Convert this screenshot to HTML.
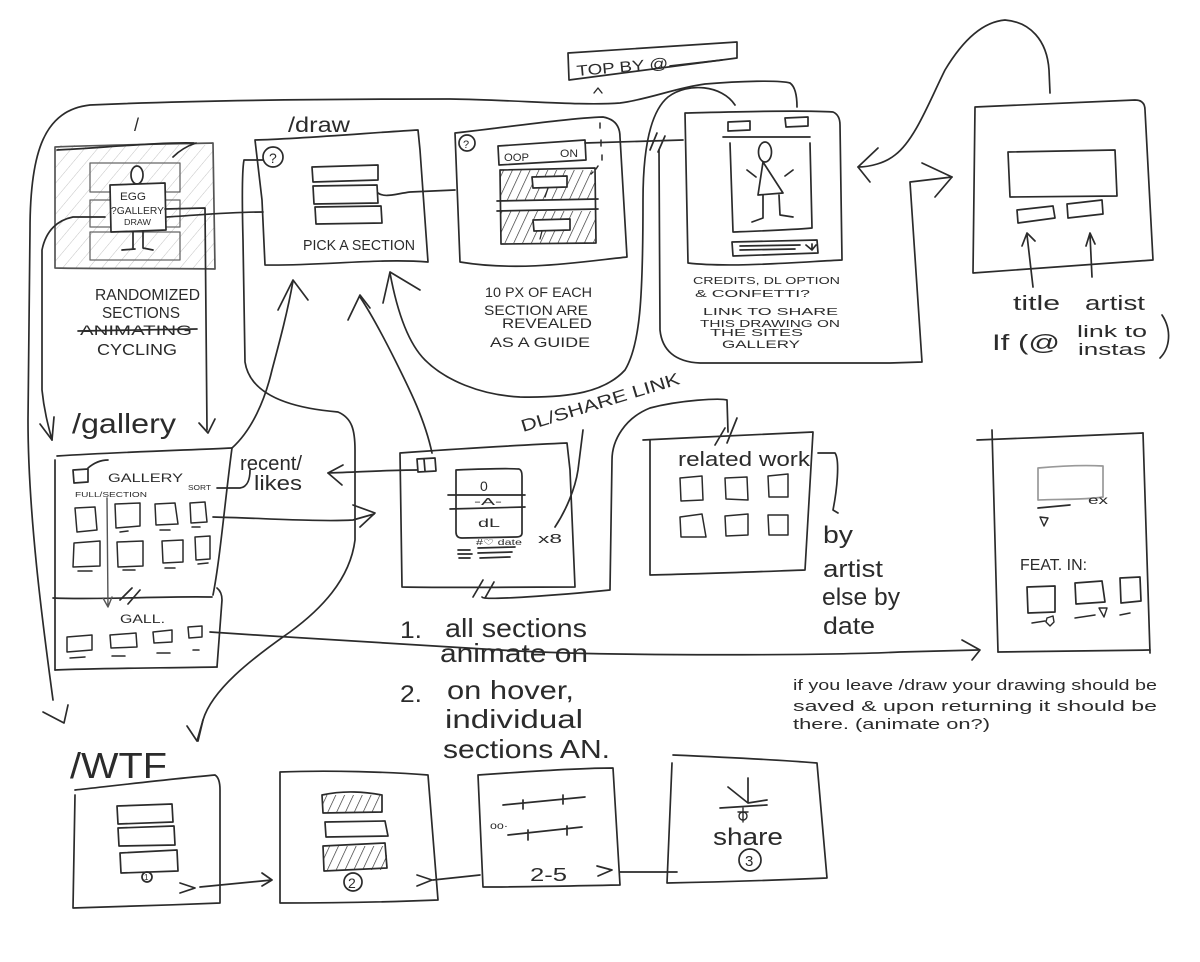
<!DOCTYPE html>
<html>
<head>
<meta charset="utf-8">
<style>
html,body{margin:0;padding:0;background:#fff;}
svg{display:block;}
text{font-family:"Liberation Sans",sans-serif;fill:#2b2b2b;}
</style>
</head>
<body>
<svg width="1200" height="962" viewBox="0 0 1200 962" xmlns="http://www.w3.org/2000/svg">
<defs>
<pattern id="gh" width="10" height="10" patternUnits="userSpaceOnUse" patternTransform="rotate(40)">
<line x1="0" y1="0" x2="0" y2="10" stroke="#c4c4c4" stroke-width="1"/>
</pattern>
<pattern id="bh" width="8" height="8" patternUnits="userSpaceOnUse" patternTransform="rotate(25)">
<line x1="0" y1="0" x2="0" y2="8" stroke="#2b2b2b" stroke-width="1.3"/>
</pattern>
</defs>
<rect width="1200" height="962" fill="#fff"/>

<g fill="none" stroke="#2b2b2b" stroke-width="1.7" stroke-linecap="round" stroke-linejoin="round">

<!-- ============ BOX 1 ( / ) ============ -->
<rect x="55" y="145" width="159" height="124" fill="url(#gh)" stroke="none"/>
<path d="M55,147 C100,145 170,144 213,143 L215,269 C160,268 100,269 55,268 Z" stroke="#555"/>
<path d="M57,150 C100,148 160,142 194,143 M173,157 C180,150 187,146 196,143"/>
<g stroke="#666" stroke-width="1.3">
<rect x="90" y="163" width="90" height="29"/>
<rect x="90" y="200" width="90" height="27"/>
<rect x="90" y="232" width="90" height="28"/>
</g>
<ellipse cx="137" cy="175" rx="6" ry="9" fill="#fff"/>
<path d="M110,185 L165,183 L166,230 L111,232 Z" fill="#fff"/>
<path d="M133,232 L133,248 M122,250 L135,249 M143,232 L143,248 L153,250"/>

<!-- ============ /draw BOX ============ -->
<path d="M255,140 C300,139 380,132 418,130 L420,150 L428,262 C380,258 320,266 265,265 L262,200 Z"/>
<circle cx="273" cy="157" r="10"/>
<path d="M312,167 L378,165 L378,180 L313,182 Z"/>
<path d="M313,186 L377,185 L378,203 L314,204 Z"/>
<path d="M315,207 L381,206 L382,223 L316,224 Z"/>

<!-- ============ OOP BOX ============ -->
<path d="M455,133 C500,128 570,118 603,117 Q620,120 620,137 L627,257 C580,262 520,272 460,262 Z"/>
<circle cx="467" cy="143" r="8"/>
<path d="M498,146 L585,140 L586,160 L499,165 Z"/>
<rect x="500" y="170" width="95" height="30" fill="url(#bh)" stroke="none"/>
<rect x="500" y="211" width="95" height="32" fill="url(#bh)" stroke="none"/>
<path d="M500,170 L595,168 L596,243 L501,244 Z"/>
<path d="M497,201 L598,199 M497,211 L598,209"/>
<path d="M532,177 L567,176 L567,187 L533,188 Z" fill="#fff"/>
<path d="M533,220 L570,219 L570,230 L534,231 Z" fill="#fff"/>
<path d="M548,188 L545,197 M542,231 L540,239" stroke-width="1.3"/>
<path d="M600,123 L600,128 M601,140 L601,146 M602,155 L602,160 M598,166 L596,169 M593,172 L591,174" stroke-width="1.5"/>

<!-- ============ TOP BY ============ -->
<path d="M568,53 L737,42 L737,58 L569,80 Z"/>
<path d="M670,66 L722,60"/>
<path d="M594,93 L598,88 L602,93" stroke-width="1.4"/>

<!-- ============ CREDITS BOX ============ -->
<path d="M685,113 C730,112 800,110 833,112 Q840,115 840,125 L842,260 C800,262 730,268 688,263 Z"/>
<path d="M728,122 L750,121 L750,130 L728,131 Z"/>
<path d="M785,118 L808,117 L808,126 L786,127 Z"/>
<path d="M723,137 L810,137"/>
<path d="M730,143 L733,232 C760,231 790,230 812,228 L810,143"/>
<ellipse cx="765" cy="152" rx="6.5" ry="10"/>
<path d="M763,162 L783,193 L758,195 Z"/>
<path d="M763,195 L763,218 L752,222 M779,195 L780,215 L793,217"/>
<path d="M747,170 L756,177 M785,176 L793,170"/>
<path d="M732,242 L817,240 L818,253 L733,256 Z"/>
<path d="M740,246 L800,245 M740,250 L795,249 M806,245 L812,250 L816,245 M812,250 L812,244"/>

<!-- ============ RIGHT BOX (title artist) ============ -->
<path d="M975,107 L1135,100 Q1145,100 1145,110 L1153,260 L973,273 Z"/>
<path d="M1008,152 L1115,150 L1117,196 L1010,197 Z"/>
<path d="M1017,210 L1053,206 L1055,218 L1018,223 Z"/>
<path d="M1067,204 L1102,200 L1103,214 L1068,218 Z"/>
<path d="M1033,287 L1027,235 M1022,246 L1027,233 L1035,241"/>
<path d="M1092,277 L1090,235 M1086,246 L1090,233 L1095,244"/>
<path d="M1162,315 C1172,330 1170,348 1160,358"/>

<!-- ============ GALLERY BOX ============ -->
<path d="M57,456 C120,452 190,450 232,448"/>
<path d="M55,460 L55,670"/>
<path d="M232,448 C225,500 220,560 213,595"/>
<path d="M53,598 C100,600 160,596 212,597"/>
<path d="M217,588 Q222,592 222,600 L217,667"/>
<path d="M55,670 C100,668 170,668 217,667"/>
<path d="M73,470 L88,469 L88,482 L74,483 Z"/>
<path d="M88,468 C95,462 102,460 108,460"/>
<g stroke-width="1.5">
<path d="M75,508 L95,507 L97,530 L77,532 Z"/>
<path d="M115,504 L140,503 L140,526 L116,528 Z"/>
<path d="M155,504 L175,503 L178,524 L156,525 Z"/>
<path d="M190,503 L205,502 L207,522 L191,523 Z"/>
<path d="M74,543 L100,541 L100,566 L73,567 Z"/>
<path d="M117,542 L143,541 L143,566 L118,567 Z"/>
<path d="M162,541 L183,540 L183,562 L163,563 Z"/>
<path d="M195,537 L210,536 L210,559 L196,560 Z"/>
<path d="M120,532 L128,531 M160,530 L170,530 M192,527 L200,527 M78,571 L92,571 M123,570 L135,570 M165,568 L175,568 M198,564 L208,563"/>
<path d="M67,637 L92,635 L92,650 L67,652 Z"/>
<path d="M110,635 L136,633 L137,647 L111,648 Z"/>
<path d="M153,632 L172,630 L172,642 L154,643 Z"/>
<path d="M188,627 L202,626 L202,637 L189,638 Z"/>
<path d="M70,658 L85,657 M112,656 L125,656 M157,653 L170,653 M193,650 L199,650"/>
</g>
<path d="M107,498 L108,607 M103,598 L108,607 L112,597" stroke="#555" stroke-width="1.4"/>
<path d="M120,600 L132,588 M128,604 L140,590"/>
<path d="M217,488 L240,488 C248,487 250,478 250,470"/>

<!-- ============ DL BOX ============ -->
<path d="M400,453 C440,450 520,445 567,443 L570,470 L575,587 C510,587 450,588 402,587 Z"/>
<path d="M417,459 L435,458 L436,471 L418,472 Z M424,459 L425,471"/>
<path d="M456,470 C480,469 505,468 519,469 Q522,470 522,476 L522,533 Q522,537 516,537 L462,538 Q456,538 456,532 Z"/>
<path d="M448,495 L525,495 M450,509 L525,507"/>
<path d="M458,550 L470,550 M458,554 L472,554 M459,558 L470,558 M478,548 L515,547 M478,553 L512,552 M480,558 L510,557"/>
<path d="M473,597 L483,580 M485,598 L494,582"/>

<!-- ============ RELATED WORK BOX ============ -->
<path d="M643,440 C700,437 760,435 813,432 L805,570 C750,572 700,574 650,575 L650,440"/>
<g stroke-width="1.5">
<path d="M680,478 L702,476 L703,500 L681,501 Z"/>
<path d="M725,478 L747,477 L748,500 L726,499 Z"/>
<path d="M768,476 L788,474 L788,497 L769,497 Z"/>
<path d="M680,517 L702,514 L706,537 L681,537 Z"/>
<path d="M725,516 L748,514 L748,535 L726,536 Z"/>
<path d="M768,515 L788,515 L788,535 L769,535 Z"/>
</g>
<path d="M715,445 L725,428 M727,443 L737,418"/>
<path d="M818,453 L835,453 C840,460 837,490 833,510 L838,513"/>

<!-- ============ ARTIST PAGE BOX ============ -->
<path d="M977,440 C1030,438 1100,435 1143,433"/>
<path d="M992,430 L998,652"/>
<path d="M1143,433 L1150,653"/>
<path d="M998,652 C1050,651 1100,651 1150,650"/>
<path d="M1038,468 C1060,466 1085,465 1103,466 L1103,497 C1085,500 1060,499 1038,500 Z" stroke="#999"/>
<path d="M1038,508 L1070,505"/>
<path d="M1040,517 L1048,518 L1044,526 Z" stroke-width="1.4"/>
<path d="M1027,587 L1055,586 L1055,612 L1028,613 Z"/>
<path d="M1075,583 L1102,581 L1105,602 L1076,604 Z"/>
<path d="M1120,578 L1140,577 L1141,601 L1121,603 Z"/>
<path d="M1032,623 L1045,621 M1075,618 L1095,615 M1120,615 L1130,613" stroke-width="1.5"/>
<path d="M1047,618 L1053,616 L1054,622 L1050,626 L1046,622 Z M1099,608 L1107,608 L1104,617 Z" stroke-width="1.4"/>

<!-- ============ WTF BOXES ============ -->
<path d="M75,790 C120,785 180,778 215,775 Q220,778 220,790 L220,903 C170,905 110,907 73,908 L75,795"/>
<path d="M117,806 L172,804 L173,822 L118,824 Z"/>
<path d="M118,828 L174,826 L175,845 L119,846 Z"/>
<path d="M120,853 L177,850 L178,871 L121,873 Z"/>
<circle cx="147" cy="877" r="5"/>

<rect x="322" y="795" width="60" height="18" fill="url(#bh)" stroke="none"/>
<rect x="323" y="846" width="64" height="24" fill="url(#bh)" stroke="none"/>
<path d="M280,772 C330,770 390,772 428,775 L438,900 C390,902 330,903 280,903 Z"/>
<path d="M322,795 C345,790 365,792 382,795 L382,812 L323,813 Z"/>
<path d="M325,822 L385,821 L388,836 L326,837 Z"/>
<path d="M323,846 L385,843 L387,868 L324,871 Z"/>
<ellipse cx="353" cy="882" rx="9" ry="9" fill="#fff"/>

<path d="M478,775 C520,772 580,768 613,768 L620,885 C570,886 520,887 483,887 Z"/>
<path d="M503,805 L585,797 M523,800 L523,809 M563,795 L563,804"/>
<path d="M508,835 L582,827 M528,830 L528,840 M567,826 L567,835"/>

<path d="M673,755 C720,757 780,760 817,763 L827,878 C780,880 720,882 667,883 L672,763"/>
<path d="M748,778 L748,803 M728,787 L748,803 L767,800 M720,808 L767,805"/>
<path d="M738,812 L748,812 M743,808 L743,822" stroke-width="1.4"/>
<circle cx="743" cy="816" r="4" stroke-width="1.4"/>
<circle cx="750" cy="860" r="11"/>

<!-- ============ CONNECTORS ============ -->
<!-- top big line / WTF arrow -->
<path d="M53,700 C45,640 28,520 28,420 L30,230 C30,150 45,110 90,105 C200,100 350,99 450,99 C520,100 580,106 620,103 C650,99 675,88 705,84 C740,81 780,80 790,83 Q797,88 797,107"/>
<path d="M43,712 L64,723 L68,705"/>
<!-- egg gallery -> /gallery -->
<path d="M105,217 L73,217 C58,220 46,230 42,250 L42,390 C44,410 48,425 52,440"/>
<path d="M40,424 L52,440 L54,417"/>
<!-- egg -> right gallery arrow -->
<path d="M165,209 L205,208 L207,430"/>
<path d="M199,423 L208,433 L215,419"/>
<!-- egg -> /draw -->
<path d="M167,217 C200,215 230,212 263,212"/>
<!-- /draw ? loop to WTF -->
<path d="M263,160 L244,160 C242,170 242,200 243,240 L245,362 C250,395 290,408 338,412 C352,418 355,430 355,450 L355,540 C350,580 320,610 290,632 C250,660 212,690 203,720 L198,741"/>
<path d="M187,726 L197,741 L203,720"/>
<!-- gallery -> /draw -->
<path d="M232,448 C252,430 265,400 272,370 C280,340 288,310 293,281"/>
<path d="M278,310 L293,280 L308,300"/>
<!-- DL box -> /draw -->
<path d="M432,453 C425,420 410,390 395,360 C385,340 372,315 360,297"/>
<path d="M348,320 L360,295 L370,308"/>
<!-- curve D from /draw up to credits top -->
<path d="M390,273 C395,300 405,340 425,360 C445,380 480,395 520,397 C570,398 605,392 625,370 C640,345 643,300 643,200 C643,150 650,112 668,97 C688,82 722,85 735,105"/>
<path d="M383,303 L390,272 L420,290"/>
<!-- OOP -> credits -->
<path d="M585,143 L683,140"/>
<path d="M650,150 L657,133 M658,152 L665,136"/>
<!-- credits loop -> right box -->
<path d="M659,150 L660,330 C662,350 675,362 700,363 L890,363 L922,362 L910,182 L952,177"/>
<path d="M922,163 L952,177 L935,197"/>
<!-- right box -> credits -->
<path d="M1050,93 L1049,70 C1047,40 1030,22 1005,20 C980,22 960,45 945,70 C930,100 915,140 895,155 C885,163 870,167 858,167"/>
<path d="M878,148 L858,167 L870,182"/>
<!-- /draw section -> OOP -->
<path d="M378,193 C385,198 395,194 410,192 L455,190"/>
<!-- recent/likes arrow -->
<path d="M417,470 C390,470 360,472 328,473"/>
<path d="M343,465 L328,473 L342,485"/>
<!-- gallery -> DL -->
<path d="M213,517 C260,518 320,522 353,520 L374,514"/>
<path d="M353,505 L375,513 L360,527"/>
<!-- long line GALL -> artist page -->
<path d="M210,632 C300,638 380,643 500,650 C613,657 840,655 900,652 L978,650"/>
<path d="M962,640 L980,650 L972,660"/>
<!-- share line -->
<path d="M555,527 C565,512 575,490 578,470 L583,430"/>
<!-- DL -> related -->
<path d="M482,597 C482,601 560,595 610,590 L612,460 C612,440 625,418 650,408 C680,400 720,398 727,400 L728,432"/>
<!-- WTF arrows -->
<path d="M180,883 L195,888 L180,893"/>
<path d="M200,887 L272,880 M262,873 L272,880 L262,886"/>
<path d="M417,875 L432,880 L417,886"/>
<path d="M433,880 L480,875"/>
<path d="M597,866 L612,870 L598,876"/>
<path d="M620,872 L677,872"/>
<!-- strike through ANIMATING -->
<path d="M78,331 L197,329"/>
</g>

<!-- ============ TEXT ============ -->
<g>
<text x="134" y="131" font-size="18">/</text>
<text x="120" y="200" font-size="11" textLength="26" lengthAdjust="spacingAndGlyphs">EGG</text>
<text x="111" y="214" font-size="10" textLength="53" lengthAdjust="spacingAndGlyphs">?GALLERY</text>
<text x="124" y="225" font-size="8" textLength="27" lengthAdjust="spacingAndGlyphs">DRAW</text>
<text x="95" y="300" font-size="16" textLength="105" lengthAdjust="spacingAndGlyphs">RANDOMIZED</text>
<text x="102" y="318" font-size="16" textLength="78" lengthAdjust="spacingAndGlyphs">SECTIONS</text>
<text x="80" y="335" font-size="14" textLength="112" lengthAdjust="spacingAndGlyphs">ANIMATING</text>
<text x="97" y="355" font-size="16" textLength="80" lengthAdjust="spacingAndGlyphs">CYCLING</text>

<text x="288" y="132" font-size="21" textLength="62" lengthAdjust="spacingAndGlyphs">/draw</text>
<text x="269" y="163" font-size="14">?</text>
<text x="303" y="250" font-size="15" textLength="112" lengthAdjust="spacingAndGlyphs">PICK A SECTION</text>

<text x="463" y="148" font-size="11">?</text>
<text x="504" y="161" font-size="11" textLength="25" lengthAdjust="spacingAndGlyphs">OOP</text>
<text x="560" y="157" font-size="11" textLength="18" lengthAdjust="spacingAndGlyphs">ON</text>
<text x="485" y="297" font-size="14" textLength="107" lengthAdjust="spacingAndGlyphs">10 PX OF EACH</text>
<text x="484" y="315" font-size="14" textLength="104" lengthAdjust="spacingAndGlyphs">SECTION ARE</text>
<text x="502" y="328" font-size="14" textLength="90" lengthAdjust="spacingAndGlyphs">REVEALED</text>
<text x="490" y="347" font-size="14" textLength="100" lengthAdjust="spacingAndGlyphs">AS A GUIDE</text>

<text x="577" y="76" font-size="15" textLength="92" lengthAdjust="spacingAndGlyphs" transform="rotate(-5 577 76)">TOP BY @</text>

<text x="693" y="284" font-size="10" textLength="147" lengthAdjust="spacingAndGlyphs">CREDITS, DL OPTION</text>
<text x="695" y="297" font-size="10" textLength="115" lengthAdjust="spacingAndGlyphs">&amp; CONFETTI?</text>
<text x="703" y="315" font-size="10" textLength="135" lengthAdjust="spacingAndGlyphs">LINK TO SHARE</text>
<text x="700" y="327" font-size="10" textLength="140" lengthAdjust="spacingAndGlyphs">THIS DRAWING ON</text>
<text x="710" y="336" font-size="10" textLength="93" lengthAdjust="spacingAndGlyphs">THE SITES</text>
<text x="722" y="348" font-size="11" textLength="78" lengthAdjust="spacingAndGlyphs">GALLERY</text>

<text x="1013" y="310" font-size="20" textLength="47" lengthAdjust="spacingAndGlyphs">title</text>
<text x="1085" y="310" font-size="20" textLength="60" lengthAdjust="spacingAndGlyphs">artist</text>
<text x="992" y="350" font-size="22" textLength="68" lengthAdjust="spacingAndGlyphs">If (@</text>
<text x="1077" y="337" font-size="17" textLength="70" lengthAdjust="spacingAndGlyphs">link to</text>
<text x="1078" y="355" font-size="17" textLength="68" lengthAdjust="spacingAndGlyphs">instas</text>

<text x="72" y="433" font-size="28" textLength="104" lengthAdjust="spacingAndGlyphs">/gallery</text>
<text x="108" y="482" font-size="12" textLength="75" lengthAdjust="spacingAndGlyphs">GALLERY</text>
<text x="75" y="497" font-size="7" textLength="72" lengthAdjust="spacingAndGlyphs">FULL/SECTION</text>
<text x="188" y="490" font-size="7" textLength="23" lengthAdjust="spacingAndGlyphs">SORT</text>
<text x="240" y="470" font-size="20" textLength="62" lengthAdjust="spacingAndGlyphs">recent/</text>
<text x="254" y="490" font-size="20" textLength="48" lengthAdjust="spacingAndGlyphs">likes</text>
<text x="120" y="623" font-size="12" textLength="45" lengthAdjust="spacingAndGlyphs">GALL.</text>

<text x="523" y="432" font-size="17" textLength="165" lengthAdjust="spacingAndGlyphs" transform="rotate(-17 523 432)">DL/SHARE LINK</text>
<text x="480" y="491" font-size="14">0</text>
<text x="474" y="505" font-size="10" textLength="28" lengthAdjust="spacingAndGlyphs">-A-</text>
<text x="478" y="527" font-size="12" textLength="22" lengthAdjust="spacingAndGlyphs">dL</text>
<text x="476" y="545" font-size="8" textLength="46" lengthAdjust="spacingAndGlyphs">#♡ date</text>
<text x="538" y="543" font-size="13" textLength="24" lengthAdjust="spacingAndGlyphs">x8</text>

<text x="678" y="466" font-size="20" textLength="132" lengthAdjust="spacingAndGlyphs">related work</text>
<text x="823" y="543" font-size="24" textLength="30" lengthAdjust="spacingAndGlyphs">by</text>
<text x="823" y="577" font-size="24" textLength="60" lengthAdjust="spacingAndGlyphs">artist</text>
<text x="822" y="605" font-size="24" textLength="78" lengthAdjust="spacingAndGlyphs">else by</text>
<text x="823" y="634" font-size="24" textLength="52" lengthAdjust="spacingAndGlyphs">date</text>

<text x="1088" y="504" font-size="12" textLength="20" lengthAdjust="spacingAndGlyphs">ex</text>
<text x="1020" y="570" font-size="16" textLength="67" lengthAdjust="spacingAndGlyphs">FEAT. IN:</text>

<text x="793" y="690" font-size="15" textLength="364" lengthAdjust="spacingAndGlyphs">if you leave /draw your drawing should be</text>
<text x="793" y="711" font-size="15" textLength="364" lengthAdjust="spacingAndGlyphs">saved &amp; upon returning it should be</text>
<text x="793" y="729" font-size="15" textLength="197" lengthAdjust="spacingAndGlyphs">there. (animate on?)</text>

<text x="400" y="638" font-size="24" textLength="22" lengthAdjust="spacingAndGlyphs">1.</text>
<text x="445" y="637" font-size="26" textLength="142" lengthAdjust="spacingAndGlyphs">all sections</text>
<text x="440" y="662" font-size="26" textLength="148" lengthAdjust="spacingAndGlyphs">animate on</text>
<text x="400" y="702" font-size="24" textLength="22" lengthAdjust="spacingAndGlyphs">2.</text>
<text x="447" y="699" font-size="26" textLength="127" lengthAdjust="spacingAndGlyphs">on hover,</text>
<text x="445" y="728" font-size="26" textLength="138" lengthAdjust="spacingAndGlyphs">individual</text>
<text x="443" y="758" font-size="26" textLength="167" lengthAdjust="spacingAndGlyphs">sections AN.</text>

<text x="70" y="778" font-size="36" textLength="97" lengthAdjust="spacingAndGlyphs">/WTF</text>
<text x="144" y="880" font-size="8">1</text>
<text x="348" y="888" font-size="14">2</text>
<text x="490" y="829" font-size="10" textLength="18" lengthAdjust="spacingAndGlyphs">oo·</text>
<text x="530" y="881" font-size="18" textLength="37" lengthAdjust="spacingAndGlyphs">2-5</text>
<text x="713" y="845" font-size="24" textLength="70" lengthAdjust="spacingAndGlyphs">share</text>
<text x="745" y="866" font-size="15">3</text>
</g>
</svg>
</body>
</html>
